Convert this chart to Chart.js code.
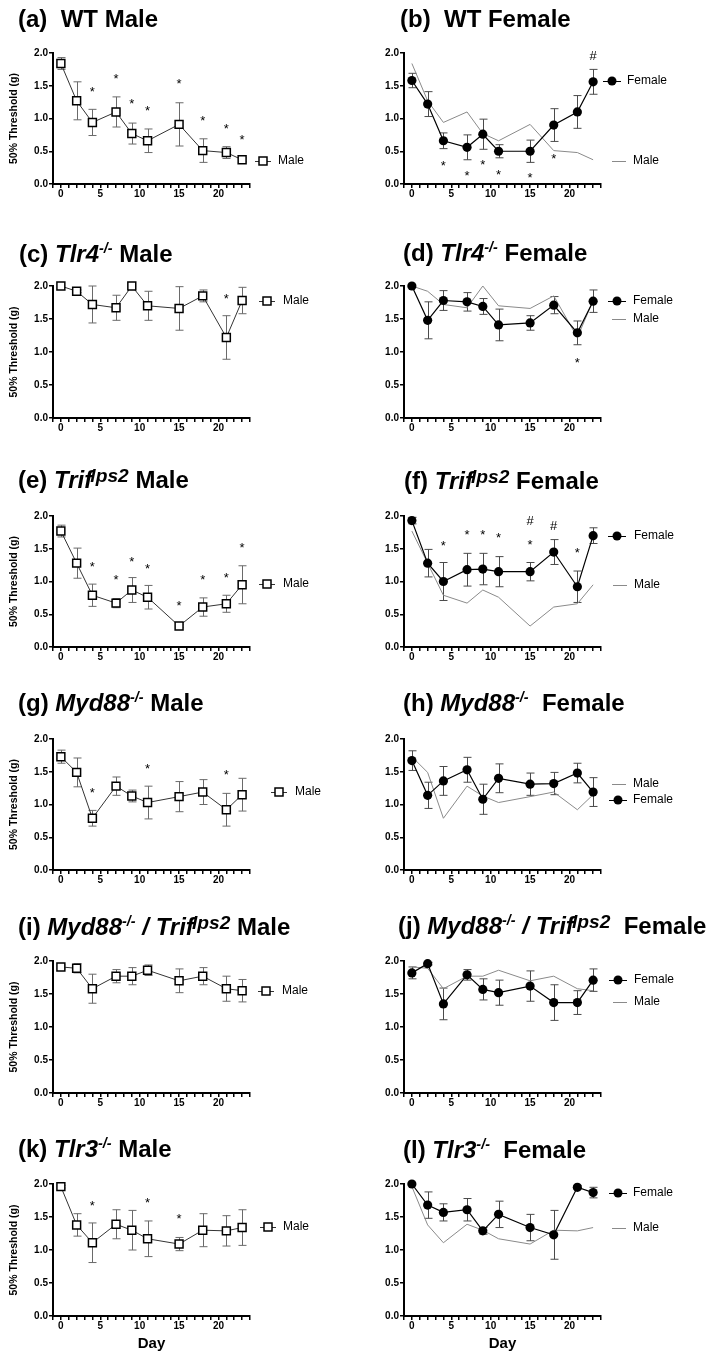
<!DOCTYPE html>
<html>
<head>
<meta charset="utf-8">
<script src="https://cdn.jsdelivr.net/npm/chart.js@4.4.1/dist/chart.umd.min.js"></script>
<style>
  html, body { margin: 0; padding: 0; background: #fff; }
  #page { position: relative; width: 710px; height: 1355px; overflow: hidden; font-family: 'Liberation Sans', Arial, sans-serif; }
  #page canvas { position: absolute; }
  .title { position: absolute; font-weight: bold; font-size: 24px; line-height: 24px; white-space: nowrap; color: #000; z-index: 2; }
  .title sup { font-size: 0.6em; vertical-align: 0.62em; line-height: 0; font-style: italic; }
  .title sup.lps { font-size: 0.8em; vertical-align: 0.3em; margin-left: -0.1em; }
</style>
</head>
<body>
<div id="page"></div>
<script>
// ==============================
// DATA
// ==============================
const days = [0, 2, 4, 7, 9, 11, 15, 18, 21, 23];
const xTickLabels = ['0', '5', '10', '15', '20'];

// (a) WT male
const wtMale      = [1.84, 1.27, 0.94, 1.10, 0.77, 0.66, 0.91, 0.51, 0.48, 0.37];
const wtMaleErr   = [0.09, 0.29, 0.20, 0.23, 0.16, 0.18, 0.33, 0.18, 0.09, 0.03];
const wtMaleMarks = [[4, 1.46, '*'], [7, 1.65, '*'], [9, 1.27, '*'], [11, 1.16, '*'], [15, 1.58, '*'], [18, 1.02, '*'], [21, 0.89, '*'], [23, 0.73, '*']];

// (b) WT female
const wtFemale      = [1.58, 1.22, 0.66, 0.56, 0.76, 0.50, 0.50, 0.90, 1.10, 1.56];
const wtFemaleErr   = [0.11, 0.19, 0.12, 0.19, 0.23, 0.10, 0.17, 0.25, 0.25, 0.19];
const wtFemaleMarks = [[4, 0.32, '*'], [7, 0.18, '*'], [9, 0.345, '*'], [11, 0.19, '*'], [15, 0.14, '*'], [18, 0.44, '*'], [23, 1.96, '#']];

// (c) Tlr4 male
const tlr4Male      = [2.00, 1.92, 1.72, 1.67, 2.00, 1.70, 1.66, 1.85, 1.22, 1.78];
const tlr4MaleErr   = [0, 0.02, 0.28, 0.19, 0, 0.22, 0.33, 0.09, 0.33, 0.20];
const tlr4MaleMarks = [[21, 1.85, '*']];

// (d) Tlr4 female
const tlr4Female      = [2.00, 1.48, 1.78, 1.76, 1.69, 1.41, 1.44, 1.71, 1.29, 1.77];
const tlr4FemaleErr   = [0, 0.28, 0.15, 0.14, 0.12, 0.24, 0.11, 0.13, 0.18, 0.17];
const tlr4FemaleMarks = [[21, 0.89, '*']];

// (e) Trif male
const trifMale      = [1.77, 1.28, 0.79, 0.67, 0.87, 0.76, 0.32, 0.61, 0.66, 0.95];
const trifMaleErr   = [0.09, 0.23, 0.17, 0.07, 0.19, 0.18, 0.02, 0.14, 0.13, 0.29];
const trifMaleMarks = [[4, 1.27, '*'], [7, 1.07, '*'], [9, 1.35, '*'], [11, 1.24, '*'], [15, 0.68, '*'], [18, 1.07, '*'], [21, 1.11, '*'], [23, 1.56, '*']];

// (f) Trif female
const trifFemale      = [1.93, 1.28, 1.00, 1.18, 1.19, 1.15, 1.15, 1.45, 0.92, 1.70];
const trifFemaleErr   = [0.05, 0.21, 0.29, 0.25, 0.24, 0.23, 0.14, 0.19, 0.24, 0.12];
const trifFemaleMarks = [[4, 1.60, '*'], [7, 1.76, '*'], [9, 1.76, '*'], [11, 1.71, '*'], [15, 1.61, '*'], [15, 1.93, '#'], [18, 1.85, '#'], [21, 1.49, '*']];

// (g) Myd88 male
const myd88Male      = [1.73, 1.49, 0.79, 1.28, 1.13, 1.03, 1.12, 1.19, 0.92, 1.15];
const myd88MaleErr   = [0.10, 0.22, 0.12, 0.14, 0.09, 0.25, 0.23, 0.19, 0.25, 0.25];
const myd88MaleMarks = [[4, 1.23, '*'], [11, 1.60, '*'], [21, 1.50, '*']];

// (h) Myd88 female
const myd88Female    = [1.67, 1.14, 1.36, 1.53, 1.08, 1.40, 1.31, 1.32, 1.48, 1.19];
const myd88FemaleErr = [0.15, 0.20, 0.22, 0.19, 0.23, 0.22, 0.17, 0.17, 0.15, 0.22];

// (i) Myd88 / Trif male
const dkoMale    = [1.91, 1.89, 1.58, 1.77, 1.77, 1.86, 1.70, 1.77, 1.58, 1.55];
const dkoMaleErr = [0.03, 0.07, 0.22, 0.10, 0.13, 0.08, 0.18, 0.13, 0.19, 0.17];

// (j) Myd88 / Trif female
const dkoFemale    = [1.82, 1.96, 1.35, 1.79, 1.57, 1.52, 1.62, 1.37, 1.37, 1.71];
const dkoFemaleErr = [0.09, 0.02, 0.24, 0.08, 0.16, 0.19, 0.23, 0.27, 0.18, 0.17];

// (k) Tlr3 male
const tlr3Male      = [1.96, 1.38, 1.11, 1.39, 1.30, 1.17, 1.09, 1.30, 1.29, 1.34];
const tlr3MaleErr   = [0.02, 0.17, 0.30, 0.22, 0.30, 0.27, 0.10, 0.25, 0.23, 0.27];
const tlr3MaleMarks = [[4, 1.72, '*'], [11, 1.76, '*'], [15, 1.52, '*']];

// (l) Tlr3 female
const tlr3Female    = [2.00, 1.68, 1.57, 1.61, 1.29, 1.54, 1.34, 1.23, 1.95, 1.87];
const tlr3FemaleErr = [0, 0.20, 0.13, 0.17, 0.05, 0.20, 0.20, 0.37, 0.03, 0.08];

// ==============================
// LAYOUT
// ==============================
const FONT = "'Liberation Sans', Arial, sans-serif";
const cols = [
    { x: 0,   w: 355, cl: 53, cr: 250 },
    { x: 355, w: 355, cl: 49, cr: 246 }
];
// h: canvas height, ct/cb: top and bottom of the plot area inside the canvas
const rows = [
    { top: 0,    h: 225, ct: 53, cb: 184 },
    { top: 220,  h: 225, ct: 66, cb: 198 },
    { top: 440,  h: 225, ct: 76, cb: 207 },
    { top: 660,  h: 230, ct: 79, cb: 210 },
    { top: 885,  h: 230, ct: 76, cb: 208 },
    { top: 1105, h: 250, ct: 79, cb: 211 }
];

const panels = [
    { id: 'a', row: 0, col: 0, tx: 18,  ty: 18.7, title: '(a)&nbsp; WT Male',
      male: wtMale, maleErr: wtMaleErr, marks: wtMaleMarks,
      legend: [{ kind: 'male', x: 263, y: 161, tx: 278 }] },
    { id: 'b', row: 0, col: 1, tx: 400, ty: 18.7, title: '(b)&nbsp; WT Female',
      female: wtFemale, femaleErr: wtFemaleErr, male: wtMale, marks: wtFemaleMarks,
      legend: [{ kind: 'female', x: 257, y: 81, tx: 272 }, { kind: 'line', x: 264, y: 161, tx: 278 }] },
    { id: 'c', row: 1, col: 0, tx: 19,  ty: 253, title: '(c) <i>Tlr4</i><sup>-/-</sup> Male',
      male: tlr4Male, maleErr: tlr4MaleErr, marks: tlr4MaleMarks,
      legend: [{ kind: 'male', x: 267, y: 81, tx: 283 }] },
    { id: 'd', row: 1, col: 1, tx: 403, ty: 252.5, title: '(d) <i>Tlr4</i><sup>-/-</sup> Female',
      female: tlr4Female, femaleErr: tlr4FemaleErr, male: tlr4Male, marks: tlr4FemaleMarks,
      legend: [{ kind: 'female', x: 262, y: 81, tx: 278 }, { kind: 'line', x: 264, y: 99, tx: 278 }] },
    { id: 'e', row: 2, col: 0, tx: 18,  ty: 479, title: '(e) <i>Trif</i><sup class="lps">lps2</sup> Male',
      male: trifMale, maleErr: trifMaleErr, marks: trifMaleMarks,
      legend: [{ kind: 'male', x: 267, y: 144, tx: 283 }] },
    { id: 'f', row: 2, col: 1, tx: 404, ty: 480, title: '(f) <i>Trif</i><sup class="lps">lps2</sup> Female',
      female: trifFemale, femaleErr: trifFemaleErr, male: trifMale, marks: trifFemaleMarks,
      legend: [{ kind: 'female', x: 262, y: 96, tx: 279 }, { kind: 'line', x: 265, y: 145, tx: 279 }] },
    { id: 'g', row: 3, col: 0, tx: 18,  ty: 702, title: '(g) <i>Myd88</i><sup>-/-</sup> Male',
      male: myd88Male, maleErr: myd88MaleErr, marks: myd88MaleMarks,
      legend: [{ kind: 'male', x: 279, y: 132, tx: 295 }] },
    { id: 'h', row: 3, col: 1, tx: 403, ty: 702.5, title: '(h) <i>Myd88</i><sup>-/-</sup>&nbsp; Female',
      female: myd88Female, femaleErr: myd88FemaleErr, male: myd88Male, marks: [],
      legend: [{ kind: 'line', x: 264, y: 124, tx: 278 }, { kind: 'female', x: 263, y: 140, tx: 278 }] },
    { id: 'i', row: 4, col: 0, tx: 18,  ty: 926, title: '(i) <i>Myd88</i><sup>-/-</sup> <i>/ Trif</i><sup class="lps">lps2</sup> Male',
      male: dkoMale, maleErr: dkoMaleErr, marks: [],
      legend: [{ kind: 'male', x: 266, y: 106, tx: 282 }] },
    { id: 'j', row: 4, col: 1, tx: 398, ty: 925, title: '(j) <i>Myd88</i><sup>-/-</sup> <i>/ Trif</i><sup class="lps">lps2</sup>&nbsp; Female',
      female: dkoFemale, femaleErr: dkoFemaleErr, male: dkoMale, marks: [],
      legend: [{ kind: 'female', x: 263, y: 95, tx: 279 }, { kind: 'line', x: 265, y: 117, tx: 279 }] },
    { id: 'k', row: 5, col: 0, tx: 18,  ty: 1148, title: '(k) <i>Tlr3</i><sup>-/-</sup> Male',
      male: tlr3Male, maleErr: tlr3MaleErr, marks: tlr3MaleMarks,
      legend: [{ kind: 'male', x: 268, y: 122, tx: 283 }] },
    { id: 'l', row: 5, col: 1, tx: 403, ty: 1149, title: '(l) <i>Tlr3</i><sup>-/-</sup>&nbsp; Female',
      female: tlr3Female, femaleErr: tlr3FemaleErr, male: tlr3Male, marks: [],
      legend: [{ kind: 'female', x: 263, y: 88, tx: 278 }, { kind: 'line', x: 264, y: 123, tx: 278 }] }
];
const panelById = {};
panels.forEach(p => { panelById['chart-' + p.id] = p; });

// ==============================
// PLUGIN: error bars, significance marks, legend
// ==============================
const panelDecor = {
    id: 'panelDecor',
    beforeDatasetsDraw(chart) {
        const p = panelById[chart.canvas.id];
        const { ctx, scales: { x, y } } = chart;
        const series = p.female
            ? [{ mean: p.female, err: p.femaleErr, color: '#4a4a4a' }]
            : [{ mean: p.male, err: p.maleErr, color: '#6a6a6a' }];
        ctx.save();
        ctx.lineWidth = 1;
        series.forEach(s => {
            ctx.strokeStyle = s.color;
            days.forEach((d, i) => {
                const e = s.err[i];
                if (!e) return;
                const px = Math.round(x.getPixelForValue(d)) + 0.5;
                const top = y.getPixelForValue(s.mean[i] + e);
                const bot = y.getPixelForValue(s.mean[i] - e);
                ctx.beginPath();
                ctx.moveTo(px, top); ctx.lineTo(px, bot);
                ctx.moveTo(px - 4, top); ctx.lineTo(px + 4, top);
                ctx.moveTo(px - 4, bot); ctx.lineTo(px + 4, bot);
                ctx.stroke();
            });
        });
        ctx.restore();
    },
    afterDatasetsDraw(chart) {
        const p = panelById[chart.canvas.id];
        const { ctx, scales: { x, y } } = chart;
        ctx.save();

        // significance marks
        ctx.fillStyle = '#000';
        ctx.textAlign = 'center';
        ctx.textBaseline = 'alphabetic';
        ctx.font = '13px ' + FONT;
        p.marks.forEach(([d, v, sym]) => {
            const off = sym === '*' ? 7.4 : 4.6;
            ctx.fillText(sym, x.getPixelForValue(d), y.getPixelForValue(v) + off);
        });

        // legend
        ctx.textAlign = 'left';
        ctx.textBaseline = 'middle';
        ctx.font = '12px ' + FONT;
        p.legend.forEach(it => {
            ctx.beginPath();
            if (it.kind === 'male') {
                ctx.strokeStyle = '#333'; ctx.lineWidth = 1;
                ctx.moveTo(it.x - 8, it.y + 0.5); ctx.lineTo(it.x + 8, it.y + 0.5);
                ctx.stroke();
                ctx.fillStyle = '#fff'; ctx.strokeStyle = '#000'; ctx.lineWidth = 1.5;
                ctx.fillRect(it.x - 4, it.y - 4, 8, 8);
                ctx.strokeRect(it.x - 4, it.y - 4, 8, 8);
            } else if (it.kind === 'female') {
                ctx.strokeStyle = '#000'; ctx.lineWidth = 1;
                ctx.moveTo(it.x - 9, it.y + 0.5); ctx.lineTo(it.x + 9, it.y + 0.5);
                ctx.stroke();
                ctx.beginPath();
                ctx.fillStyle = '#000';
                ctx.arc(it.x, it.y, 4.5, 0, Math.PI * 2);
                ctx.fill();
            } else {
                ctx.strokeStyle = '#8a8a8a'; ctx.lineWidth = 1;
                ctx.moveTo(it.x - 7, it.y + 0.5); ctx.lineTo(it.x + 7, it.y + 0.5);
                ctx.stroke();
            }
            ctx.fillStyle = '#000';
            ctx.fillText(it.kind === 'female' ? 'Female' : 'Male', it.tx, it.y);
        });
        ctx.restore();
    }
};

// ==============================
// CHARTS
// ==============================
function toPoints(values) {
    return days.map((d, i) => ({ x: d, y: values[i] }));
}

function buildDatasets(p) {
    if (!p.female) {
        return [{
            label: 'Male',
            data: toPoints(p.male),
            borderColor: '#333',
            borderWidth: 1,
            pointStyle: 'rect',
            pointRadius: 5.6,
            pointBackgroundColor: '#fff',
            pointBorderColor: '#000',
            pointBorderWidth: 1.5,
            tension: 0,
            clip: false
        }];
    }
    return [{
        label: 'Female',
        data: toPoints(p.female),
        borderColor: '#000',
        borderWidth: 1.2,
        pointStyle: 'circle',
        pointRadius: 4.6,
        pointBackgroundColor: '#000',
        pointBorderColor: '#000',
        pointBorderWidth: 0,
        tension: 0,
        clip: false
    }, {
        label: 'Male',
        data: toPoints(p.male),
        borderColor: '#8a8a8a',
        borderWidth: 1,
        pointRadius: 0,
        tension: 0,
        clip: false
    }];
}

function buildScales(p) {
    const col = cols[p.col];
    const row = rows[p.row];
    const tickFont = { family: FONT, size: 10, weight: 'bold', lineHeight: 1 };
    return {
        x: {
            type: 'linear',
            min: -1,
            max: 24,
            afterFit: s => { s.height = row.h - row.cb; },
            grid: { drawOnChartArea: false, drawTicks: true, tickLength: 4, color: '#000', lineWidth: 1.5 },
            border: { display: true, color: '#000', width: 2 },
            ticks: {
                stepSize: 1,
                autoSkip: false,
                maxRotation: 0,
                padding: 1,
                color: '#000',
                font: tickFont,
                callback: v => xTickLabels.includes(String(v)) ? String(v) : ''
            },
            title: {
                display: p.row === rows.length - 1,
                text: 'Day',
                color: '#000',
                font: { family: FONT, size: 15, weight: 'bold' },
                padding: { top: 0, bottom: 2 }
            }
        },
        y: {
            min: 0,
            max: 2,
            afterFit: s => { s.width = col.cl; },
            grid: { drawOnChartArea: false, drawTicks: true, tickLength: 4, color: '#000', lineWidth: 1.5 },
            border: { display: true, color: '#000', width: 2 },
            ticks: {
                stepSize: 0.5,
                padding: 1,
                color: '#000',
                font: tickFont,
                callback: v => v.toFixed(1)
            },
            title: {
                display: p.col === 0,
                text: '50% Threshold (g)',
                color: '#000',
                font: { family: FONT, size: 10.5, weight: 'bold', lineHeight: 1 },
                padding: { top: 9, bottom: 0 }
            }
        }
    };
}

function createPanel(p) {
    const page = document.getElementById('page');
    const col = cols[p.col];
    const row = rows[p.row];

    const canvas = document.createElement('canvas');
    canvas.id = 'chart-' + p.id;
    canvas.width = col.w;
    canvas.height = row.h;
    canvas.style.left = col.x + 'px';
    canvas.style.top = row.top + 'px';
    canvas.style.width = col.w + 'px';
    canvas.style.height = row.h + 'px';
    page.appendChild(canvas);

    const title = document.createElement('div');
    title.className = 'title';
    title.innerHTML = p.title;
    title.style.left = p.tx + 'px';
    title.style.top = (p.ty - 11.5) + 'px';
    page.appendChild(title);

    new Chart(canvas, {
        type: 'line',
        data: { datasets: buildDatasets(p) },
        options: {
            responsive: false,
            animation: false,
            devicePixelRatio: 1,
            events: [],
            layout: { padding: { top: row.ct, right: col.w - col.cr, bottom: 0, left: 0 } },
            plugins: { legend: { display: false }, tooltip: { enabled: false } },
            scales: buildScales(p)
        },
        plugins: [panelDecor]
    });
}

panels.forEach(createPanel);
</script>
</body>
</html>
